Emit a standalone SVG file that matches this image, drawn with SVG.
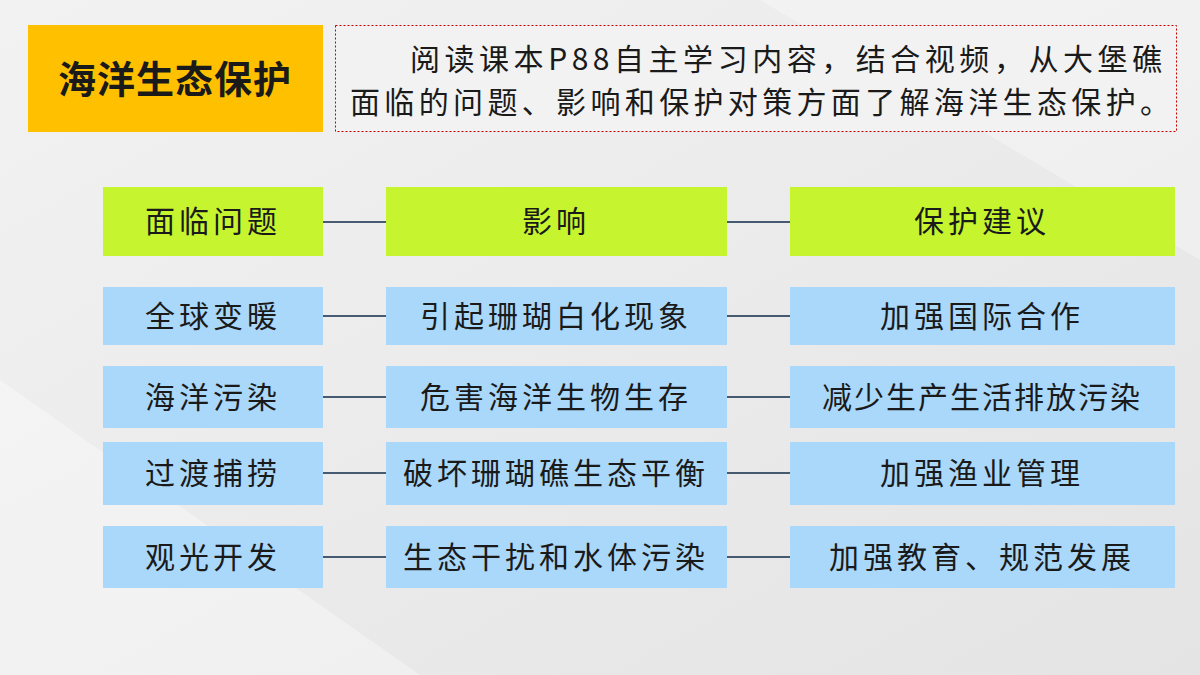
<svg xmlns="http://www.w3.org/2000/svg" width="1200" height="675" viewBox="0 0 1200 675">
<defs>
<linearGradient id="bg" x1="0" y1="0" x2="1" y2="1">
<stop offset="0" stop-color="#f2f2f2"/><stop offset="1" stop-color="#e4e4e4"/>
</linearGradient>
<style>
.t{font-family:"Noto Sans CJK SC","Noto Sans",sans-serif;fill:#1a1a1a;text-anchor:middle;font-size:30px;letter-spacing:4px}
.g{fill:#c6f52f}
.b{fill:#aad8fa}
.c{stroke:#0f2a4a;stroke-width:1.5}
</style>
</defs>
<rect width="1200" height="675" fill="url(#bg)"/>
<polygon points="0,675 420,675 0,380" fill="#ffffff" opacity="0.35"/>
<polygon points="760,0 1200,0 1200,260" fill="#ffffff" opacity="0.3"/>
<g id="title"><rect x="28" y="25" width="295" height="107" fill="#ffc000"/>
<text x="175" y="93" class="t" style="font-weight:bold;font-size:38px;letter-spacing:1px" fill="#000">海洋生态保护</text></g>
<g id="intro"><rect x="335.5" y="25.5" width="841" height="106" fill="#f2f2f2" stroke="#c00000" stroke-dasharray="2,2"/>
<text x="410" y="70" class="t" style="text-anchor:start;letter-spacing:0" textLength="752">阅读课本P88自主学习内容，结合视频，从大堡礁</text>
<text x="350" y="113" class="t" style="text-anchor:start;letter-spacing:0" textLength="820">面临的问题、影响和保护对策方面了解海洋生态保护。</text></g>
<g id="connectors">
<line class="c" x1="323" y1="222" x2="386" y2="222"/><line class="c" x1="727" y1="222" x2="790" y2="222"/>
<line class="c" x1="323" y1="316" x2="386" y2="316"/><line class="c" x1="727" y1="316" x2="790" y2="316"/>
<line class="c" x1="323" y1="397" x2="386" y2="397"/><line class="c" x1="727" y1="397" x2="790" y2="397"/>
<line class="c" x1="323" y1="473" x2="386" y2="473"/><line class="c" x1="727" y1="473" x2="790" y2="473"/>
<line class="c" x1="323" y1="557" x2="386" y2="557"/><line class="c" x1="727" y1="557" x2="790" y2="557"/>
</g>
<g id="h1"><rect class="g" x="103" y="187" width="220" height="69"/><text class="t" x="213" y="232">面临问题</text></g>
<g id="h2"><rect class="g" x="386" y="187" width="341" height="69"/><text class="t" x="556" y="232">影响</text></g>
<g id="h3"><rect class="g" x="790" y="187" width="385" height="69"/><text class="t" x="982" y="232">保护建议</text></g>
<g id="r1a"><rect class="b" x="103" y="287" width="220" height="58"/><text class="t" x="213" y="327">全球变暖</text></g>
<g id="r1b"><rect class="b" x="386" y="287" width="341" height="58"/><text class="t" x="556" y="327">引起珊瑚白化现象</text></g>
<g id="r1c"><rect class="b" x="790" y="287" width="385" height="58"/><text class="t" x="982" y="327">加强国际合作</text></g>
<g id="r2a"><rect class="b" x="103" y="366" width="220" height="62"/><text class="t" x="213" y="408">海洋污染</text></g>
<g id="r2b"><rect class="b" x="386" y="366" width="341" height="62"/><text class="t" x="556" y="408">危害海洋生物生存</text></g>
<g id="r2c"><rect class="b" x="790" y="366" width="385" height="62"/><text class="t" x="982" y="408" style="letter-spacing:2px">减少生产生活排放污染</text></g>
<g id="r3a"><rect class="b" x="103" y="442" width="220" height="63"/><text class="t" x="213" y="484">过渡捕捞</text></g>
<g id="r3b"><rect class="b" x="386" y="442" width="341" height="63"/><text class="t" x="556" y="484">破坏珊瑚礁生态平衡</text></g>
<g id="r3c"><rect class="b" x="790" y="442" width="385" height="63"/><text class="t" x="982" y="484">加强渔业管理</text></g>
<g id="r4a"><rect class="b" x="103" y="526" width="220" height="62"/><text class="t" x="213" y="568">观光开发</text></g>
<g id="r4b"><rect class="b" x="386" y="526" width="341" height="62"/><text class="t" x="556" y="568">生态干扰和水体污染</text></g>
<g id="r4c"><rect class="b" x="790" y="526" width="385" height="62"/><text class="t" x="982" y="568">加强教育、规范发展</text></g>
</svg>
